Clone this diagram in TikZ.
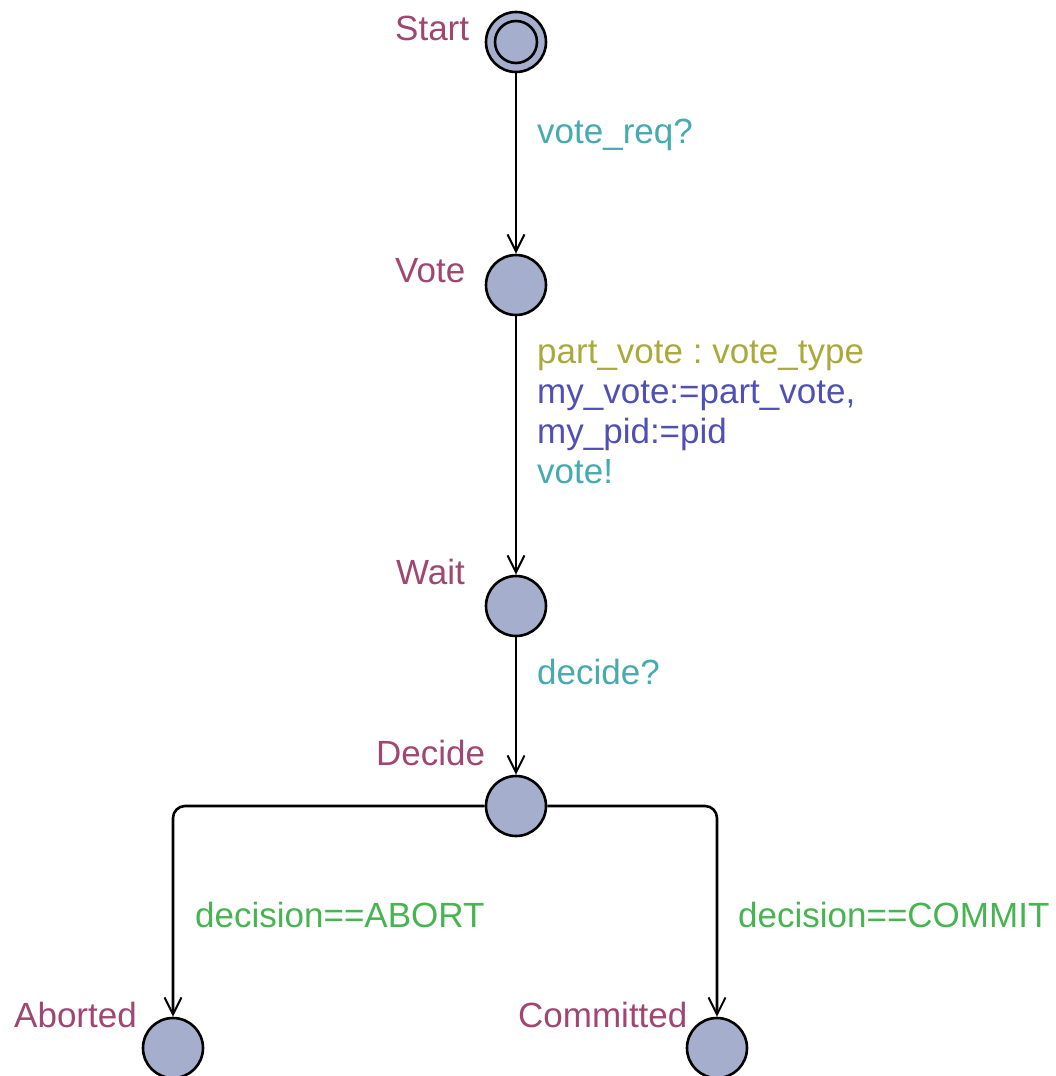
\documentclass[tikz,border=0pt]{standalone}
\usepackage{fontspec}
\setmainfont{Liberation Sans}
\usetikzlibrary{arrows.meta}
\frenchspacing
\definecolor{locname}{RGB}{160,70,115}
\definecolor{synccol}{RGB}{70,170,175}
\definecolor{selectcol}{RGB}{170,170,60}
\definecolor{updatecol}{RGB}{80,80,180}
\definecolor{guardcol}{RGB}{70,180,80}
\definecolor{locfill}{RGB}{165,174,204}
\begin{document}
\begin{tikzpicture}[x=1pt,y=-1pt,
  every node/.style={font=\fontsize{35}{40}\selectfont, inner sep=0pt},
  loc/.style={circle, draw=black, fill=locfill, line width=2.6pt, minimum size=60pt},
  lname/.style={text=locname, anchor=base west},
  lbl/.style={anchor=base west, align=left},
  trans/.style={draw=black, line width=2.6pt, rounded corners=12pt,
    -{Straight Barb[length=17pt,width=17pt,line width=2pt]}}
]
\useasboundingbox (0,0) rectangle (1055,1076);

% locations
\node[loc] (start) at (516,42) {};
\node[circle, draw=black, line width=2.6pt, minimum size=42pt] (startin) at (start) {};
\node[loc] (vote) at (516,285) {};
\node[loc] (wait) at (516,606) {};
\node[loc] (decide) at (516,806) {};
\node[loc] (aborted) at (173,1048) {};
\node[loc] (committed) at (717,1048) {};

% location names
\node[lname] (nstart) at (395,40) {Start};
\node[lname] (nvote) at (395,282) {Vote};
\node[lname] (nwait) at (396,584) {Wait};
\node[lname] (ndecide) at (376,765) {Decide};
\node[lname] (naborted) at (14,1027) {Aborted};
\node[lname] (ncommitted) at (518,1027) {Committed};

% transitions
\draw[trans] (start) -- (vote);
\draw[trans] (vote) -- (wait);
\draw[trans] (wait) -- (decide);
\draw[trans] (decide.west) -| (aborted.north);
\draw[trans] (decide.east) -| (committed.north);

% transition labels
\node[lbl, text=synccol] (l1) at (537,143) {vote\_req?};
\node[lbl, text=selectcol] (l2a) at (537,363) {part\_vote : vote\_type};
\node[lbl, text=updatecol] (l2b) at (537,403) {my\_vote:=part\_vote,};
\node[lbl, text=updatecol] (l2c) at (537,443) {my\_pid:=pid};
\node[lbl, text=synccol] (l2d) at (537,483) {vote!};
\node[lbl, text=synccol] (l3) at (537,684) {decide?};
\node[lbl, text=guardcol] (l4) at (195,927) {decision==ABORT};
\node[lbl, text=guardcol] (l5) at (738,927) {decision==COMMIT};
\end{tikzpicture}
\end{document}
